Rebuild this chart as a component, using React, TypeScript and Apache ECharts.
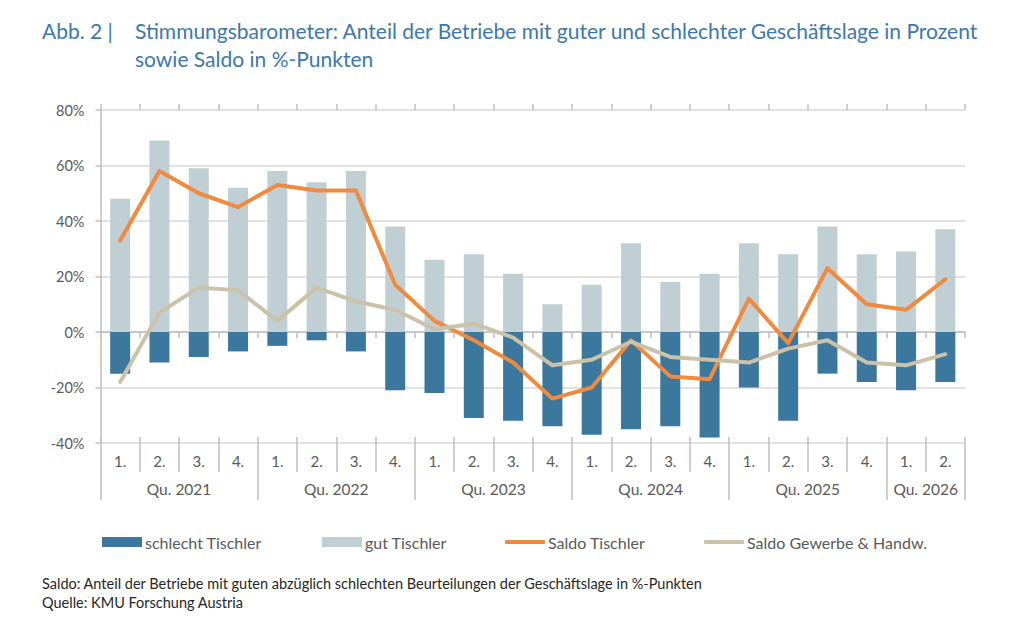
import React, { useEffect, useRef } from "react";
import * as echarts from "echarts";

const quarters = [
  "1.", "2.", "3.", "4.",
  "1.", "2.", "3.", "4.",
  "1.", "2.", "3.", "4.",
  "1.", "2.", "3.", "4.",
  "1.", "2.", "3.", "4.",
  "1.", "2.",
];
// year labels placed on category boundaries (23 points for 22 categories)
const yearLabels = [
  "", "", "Qu. 2021", "", "", "", "Qu. 2022", "", "", "", "Qu. 2023", "",
  "", "", "Qu. 2024", "", "", "", "Qu. 2025", "", "", "Qu. 2026", "",
];
const yearBoundaries = [0, 4, 8, 12, 16, 20, 22];

const schlechtTischler = [-15, -11, -9, -7, -5, -3, -7, -21, -22, -31, -32, -34, -37, -35, -34, -38, -20, -32, -15, -18, -21, -18];
const gutTischler = [48, 69, 59, 52, 58, 54, 58, 38, 26, 28, 21, 10, 17, 32, 18, 21, 32, 28, 38, 28, 29, 37];
const saldoTischler = [33, 58, 50, 45, 53, 51, 51, 17, 4, -3, -11, -24, -20, -3, -16, -17, 12, -4, 23, 10, 8, 19];
const saldoGewerbe = [-18, 7, 16, 15, 4, 16, 11, 8, 1, 3, -2, -12, -10, -3.5, -9, -10, -11, -6, -3, -11, -12, -8];

const yTicks = { min: -40, max: 80, interval: 20 };

const FONT = "Lato";
const AXIS_GREY = "#bfbfbf";
const TEXT_GREY = "#595959";
const C_SCHLECHT = "#3c789e";
const C_GUT = "#bfcfd4";
const C_SALDO = "#ef8a3e";
const C_GEWERBE = "#cbc2aa";

export default function App() {
  const ref = useRef<HTMLDivElement>(null);
  useEffect(() => {
    if (!ref.current) return;
    const chart = echarts.init(ref.current, null, { renderer: "svg" });
    const legendBase = {
      top: 534,
      padding: 0,
      itemWidth: 40,
      itemGap: 0,
      textStyle: { fontFamily: FONT, fontSize: 16, color: TEXT_GREY, padding: [0, 0, 0, -2] },
      selectedMode: false,
    };
    const titleStyle = { fontFamily: FONT, fontSize: 21, fontWeight: "normal", color: "#3a78ad", lineHeight: 28 };
    chart.setOption({
      animation: false,
      textStyle: { fontFamily: FONT },
      title: [
        { text: "Abb. 2 |", left: 42, top: 16, padding: 0, textStyle: titleStyle },
        {
          text: "Stimmungsbarometer: Anteil der Betriebe mit guter und schlechter Geschäftslage in Prozent\nsowie Saldo in %-Punkten",
          left: 135,
          top: 16,
          padding: 0,
          textStyle: titleStyle,
        },
        {
          text: "Saldo: Anteil der Betriebe mit guten abzüglich schlechten Beurteilungen der Geschäftslage in %-Punkten\nQuelle: KMU Forschung Austria",
          left: 42,
          top: 574,
          padding: 0,
          textStyle: { fontFamily: FONT, fontSize: 14.5, fontWeight: "normal", color: "#262626", lineHeight: 19 },
        },
      ],
      legend: [
        { ...legendBase, left: 102, itemHeight: 10, icon: "rect", data: ["schlecht Tischler"] },
        { ...legendBase, left: 322, itemHeight: 10, icon: "rect", data: ["gut Tischler"] },
        { ...legendBase, left: 505, itemHeight: 4, icon: "roundRect", data: ["Saldo Tischler"] },
        { ...legendBase, left: 704, itemHeight: 4, icon: "roundRect", data: ["Saldo Gewerbe & Handw."] },
      ],
      grid: { left: 100.5, right: 59, top: 110, bottom: 195, containLabel: false },
      xAxis: [
        {
          type: "category",
          data: quarters,
          position: "bottom",
          axisLine: { onZero: true, lineStyle: { color: AXIS_GREY, width: 1.5 } },
          axisTick: { show: true, length: 6, lineStyle: { color: AXIS_GREY, width: 1.5 } },
          axisLabel: { show: false },
          splitLine: { show: false },
        },
        {
          type: "category",
          data: quarters,
          position: "top",
          axisLine: { show: false, onZero: true },
          axisTick: { show: true, length: 6, lineStyle: { color: AXIS_GREY, width: 1.5 } },
          axisLabel: { show: false },
        },
        {
          type: "category",
          data: quarters,
          position: "bottom",
          axisLine: { show: false, onZero: false },
          axisTick: { show: true, length: 29, lineStyle: { color: AXIS_GREY, width: 1.5 } },
          axisLabel: { show: true, interval: 0, margin: 10, fontSize: 15, color: TEXT_GREY, fontFamily: FONT },
        },
        {
          type: "category",
          data: quarters,
          position: "bottom",
          axisLine: { show: false, onZero: false },
          axisTick: { show: true, inside: true, length: 6, lineStyle: { color: AXIS_GREY, width: 1.5 } },
          axisLabel: { show: false },
        },
        {
          type: "category",
          data: yearLabels,
          boundaryGap: false,
          position: "bottom",
          offset: 29,
          axisLine: { show: false, onZero: false },
          axisTick: {
            show: true,
            length: 28,
            interval: (index: number) => yearBoundaries.indexOf(index) >= 0,
            lineStyle: { color: AXIS_GREY, width: 1.5 },
          },
          axisLabel: { show: true, interval: 0, margin: 9, fontSize: 15.5, color: TEXT_GREY, fontFamily: FONT },
        },
      ],
      yAxis: {
        type: "value",
        min: yTicks.min,
        max: yTicks.max,
        interval: yTicks.interval,
        axisLine: { show: true, lineStyle: { color: AXIS_GREY, width: 1.5 } },
        axisTick: { show: true, length: 5, lineStyle: { color: AXIS_GREY, width: 1.5 } },
        axisLabel: { formatter: "{value}%", fontSize: 14.5, color: TEXT_GREY, margin: 16, fontFamily: FONT },
        splitLine: { lineStyle: { color: "#d9d9d9", width: 1.5 } },
      },
      series: [
        {
          name: "schlecht Tischler",
          type: "bar",
          stack: "t",
          barWidth: 20,
          data: schlechtTischler,
          itemStyle: { color: C_SCHLECHT },
        },
        {
          name: "gut Tischler",
          type: "bar",
          stack: "t",
          barWidth: 20,
          data: gutTischler,
          itemStyle: { color: C_GUT },
        },
        {
          name: "Saldo Tischler",
          type: "line",
          data: saldoTischler,
          showSymbol: false,
          symbol: "none",
          lineStyle: { color: C_SALDO, width: 4, cap: "round", join: "round" },
          itemStyle: { color: C_SALDO },
        },
        {
          name: "Saldo Gewerbe & Handw.",
          type: "line",
          data: saldoGewerbe,
          showSymbol: false,
          symbol: "none",
          lineStyle: { color: C_GEWERBE, width: 4, cap: "round", join: "round" },
          itemStyle: { color: C_GEWERBE },
        },
      ],
    });
    return () => chart.dispose();
  }, []);
  return <div ref={ref} style={{ width: 1024, height: 638, position: "absolute", left: 0, top: 0 }} />;
}
